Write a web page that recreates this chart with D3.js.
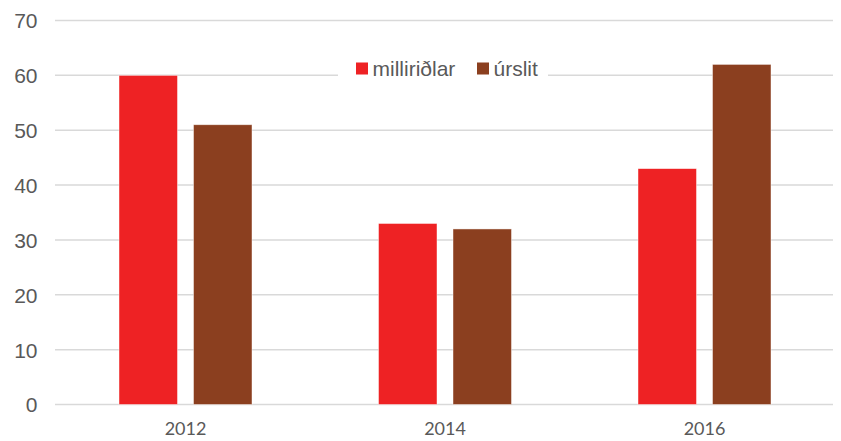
<!DOCTYPE html>
<html><head><meta charset="utf-8">
<script src="https://cdn.jsdelivr.net/npm/d3@7"></script>
<style>body{margin:0;background:#fff}svg{display:block}</style>
</head><body>
<svg id="c" width="841" height="441"></svg>
<script>
const categories = ["2012", "2014", "2016"];
const seriesNames = ["milliriðlar", "úrslit"];
const milliridlar = [60, 33, 43];
const urslit = [51, 32, 62];
const yTicks = [0, 10, 20, 30, 40, 50, 60, 70];
const colors = ["#ee2224", "#8b3f1f"];

(function () {
const svg = d3.select("#c");
const pLeft = 55.75, pRight = 834.25, pTop = 20.5, pBottom = 404.5;
const x = d3.scaleBand().domain(categories).range([pLeft, pRight]).padding(0);
const y = d3.scaleLinear().domain([0, 70]).range([pBottom, pTop]);
const groupW = 133;
const x1 = d3.scaleBand().domain(seriesNames).range([0, groupW]).paddingInner(0.2148).paddingOuter(0);

// gridlines
svg.append("g").selectAll("line").data(yTicks).join("line")
  .attr("x1", 55).attr("x2", 833)
  .attr("y1", d => y(d)).attr("y2", d => y(d))
  .attr("stroke", "#d9d9d9").attr("stroke-width", 1.5);

// y axis labels
const yAxis = d3.axisLeft(y).tickValues(yTicks).tickSize(0).tickPadding(0);
const ya = svg.append("g").attr("transform", "translate(37.5,0)").call(yAxis);
ya.select(".domain").remove();
ya.selectAll("text").attr("font-family", "Liberation Sans, Arial, sans-serif")
  .attr("font-size", 21).attr("fill", "#595959").attr("dy", "0.35em");

// x axis labels
const xAxis = d3.axisBottom(x).tickSize(0).tickPadding(0);
const xa = svg.append("g").attr("transform", `translate(0,${pBottom + 18})`).call(xAxis);
xa.select(".domain").remove();
xa.selectAll("text").attr("font-family", "Lato, sans-serif")
  .attr("font-size", 18).attr("fill", "#595959").attr("dy", "0.7em");

// bars
const data = categories.map((c, i) => ({ cat: c, vals: [milliridlar[i], urslit[i]] }));
const groups = svg.append("g").selectAll("g").data(data).join("g")
  .attr("transform", d => `translate(${x(d.cat) + (x.bandwidth() - groupW) / 2},0)`);
groups.selectAll("rect").data(d => d.vals.map((v, j) => ({ name: seriesNames[j], v, j })))
  .join("rect")
  .attr("x", d => x1(d.name)).attr("width", x1.bandwidth())
  .attr("y", d => y(d.v)).attr("height", d => y(0) - y(d.v))
  .attr("fill", d => colors[d.j])
  .attr("stroke", "#ffffff").attr("stroke-opacity", 0.6).attr("stroke-width", 0.75);

// legend
const lg = svg.append("g");
lg.append("rect").attr("x", 338).attr("y", 58).attr("width", 210).attr("height", 26).attr("fill", "#fff");
const legendX = [356, 477];
seriesNames.forEach((n, i) => {
  lg.append("rect").attr("x", legendX[i]).attr("y", 62.5).attr("width", 12).attr("height", 12).attr("fill", colors[i]);
  lg.append("text").attr("x", legendX[i] + 16.5).attr("y", 69).attr("dy", "0.35em")
    .attr("font-family", "Liberation Sans, Arial, sans-serif").attr("font-size", 21)
    .attr("fill", "#595959").text(n);
});
})();
</script>
</body></html>
